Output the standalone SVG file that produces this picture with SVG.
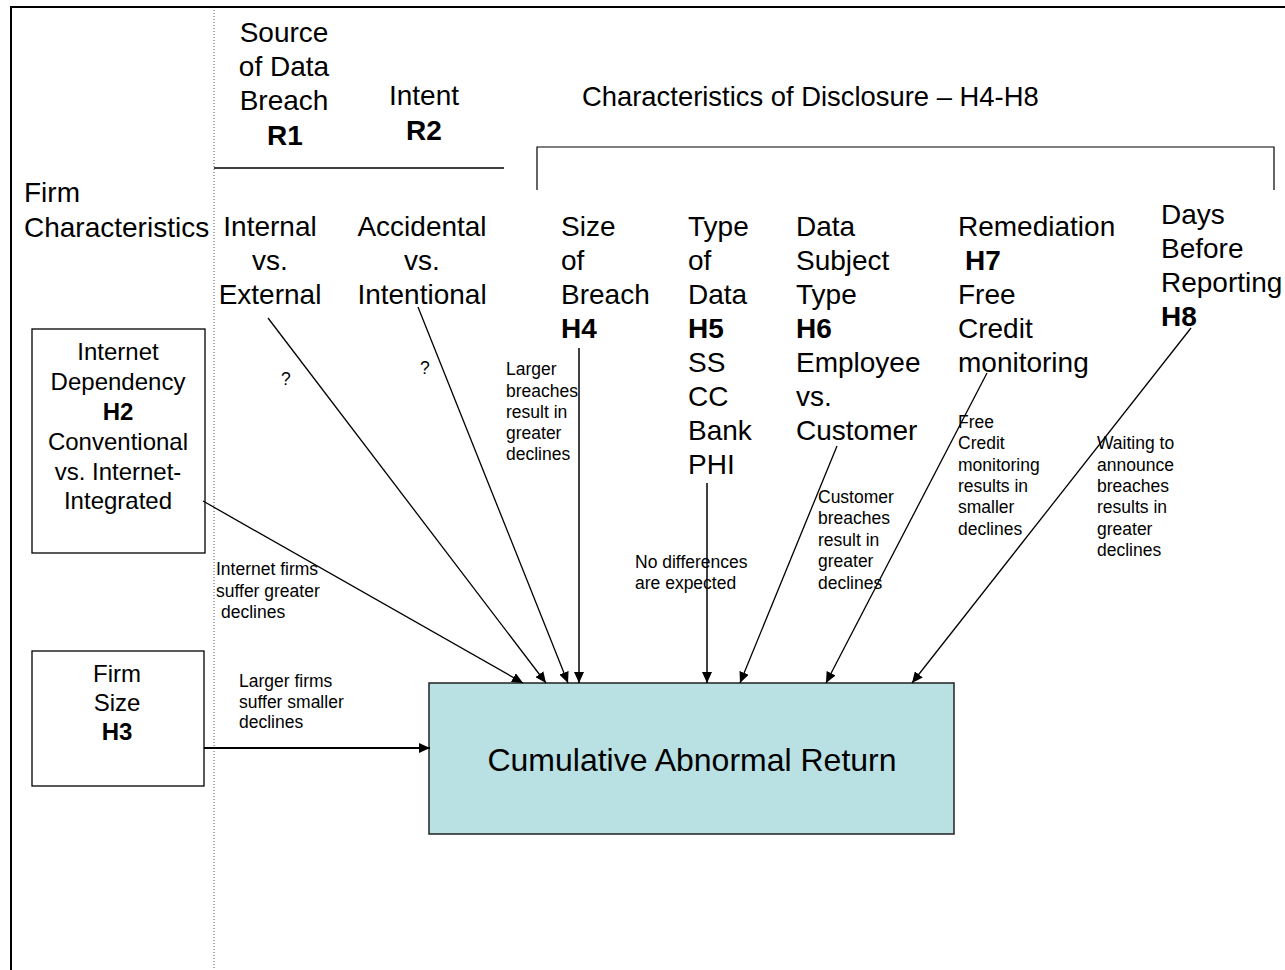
<svg xmlns="http://www.w3.org/2000/svg" width="1285" height="970" viewBox="0 0 1285 970">
<style>
text{font-family:"Liberation Sans",Arial,sans-serif;fill:#000}
.big{font-size:28px}
.mid{font-size:24px}
.sm{font-size:17.5px}
.b{font-weight:bold}
.c{text-anchor:middle}
.ln{stroke:#000;stroke-width:1.3;fill:none}
</style>
<defs>
<marker id="ah" markerUnits="userSpaceOnUse" markerWidth="12" markerHeight="10" refX="11" refY="5" orient="auto">
<path d="M0,0 L11,5 L0,10 Z" fill="#000"/>
</marker>
</defs>
<rect width="1285" height="970" fill="#fff"/>
<g id="frame">
<path d="M11,970 V7 H1285" stroke="#000" stroke-width="2" fill="none"/>
<line x1="214" y1="10" x2="214" y2="970" stroke="#555" stroke-width="1" stroke-dasharray="1,2"/>
<line x1="214" y1="168" x2="504" y2="168" stroke="#000" stroke-width="1.3"/>
<path d="M537,190 V147 H1274 V190" stroke="#000" stroke-width="1.2" fill="none"/>
</g>
<g id="headers">
<text class="big c" x="284" y="42">Source</text>
<text class="big c" x="284" y="76">of Data</text>
<text class="big c" x="284" y="110">Breach</text>
<text class="big c b" x="285" y="145">R1</text>
<text class="big c" x="424" y="105">Intent</text>
<text class="big c b" x="424" y="140">R2</text>
<text class="big" x="582" y="106" style="font-size:27.4px">Characteristics of Disclosure – H4-H8</text>
<text class="big" x="24" y="202">Firm</text>
<text class="big" x="24" y="237">Characteristics</text>
</g>
<g id="n-internal">
<text class="big c" x="270" y="236">Internal</text>
<text class="big c" x="270" y="270">vs.</text>
<text class="big c" x="270" y="304">External</text>
</g>
<g id="n-accidental">
<text class="big c" x="422" y="236">Accidental</text>
<text class="big c" x="422" y="270">vs.</text>
<text class="big c" x="422" y="304">Intentional</text>
</g>
<g id="n-size">
<text class="big" x="561" y="236">Size</text>
<text class="big" x="561" y="270">of</text>
<text class="big" x="561" y="304">Breach</text>
<text class="big b" x="561" y="338">H4</text>
</g>
<g id="n-type">
<text class="big" x="688" y="236">Type</text>
<text class="big" x="688" y="270">of</text>
<text class="big" x="688" y="304">Data</text>
<text class="big b" x="688" y="338">H5</text>
<text class="big" x="688" y="372">SS</text>
<text class="big" x="688" y="406">CC</text>
<text class="big" x="688" y="440">Bank</text>
<text class="big" x="688" y="474">PHI</text>
</g>
<g id="n-subject">
<text class="big" x="796" y="236">Data</text>
<text class="big" x="796" y="270">Subject</text>
<text class="big" x="796" y="304">Type</text>
<text class="big b" x="796" y="338">H6</text>
<text class="big" x="796" y="372">Employee</text>
<text class="big" x="796" y="406">vs.</text>
<text class="big" x="796" y="440">Customer</text>
</g>
<g id="n-remediation">
<text class="big" x="958" y="236">Remediation</text>
<text class="big b" x="965" y="270">H7</text>
<text class="big" x="958" y="304">Free</text>
<text class="big" x="958" y="338">Credit</text>
<text class="big" x="958" y="372">monitoring</text>
</g>
<g id="n-days">
<text class="big" x="1161" y="224">Days</text>
<text class="big" x="1161" y="258">Before</text>
<text class="big" x="1161" y="292">Reporting</text>
<text class="big b" x="1161" y="326">H8</text>
</g>
<g id="n-internet">
<rect x="32" y="329" width="173" height="224" fill="#fff" stroke="#000" stroke-width="1.3"/>
<text class="mid c" x="118" y="360">Internet</text>
<text class="mid c" x="118" y="390">Dependency</text>
<text class="mid c b" x="118" y="420">H2</text>
<text class="mid c" x="118" y="450">Conventional</text>
<text class="mid c" x="118" y="480">vs. Internet-</text>
<text class="mid c" x="118" y="509">Integrated</text>
</g>
<g id="n-firmsize">
<rect x="32" y="651" width="172" height="135" fill="#fff" stroke="#000" stroke-width="1.3"/>
<text class="mid c" x="117" y="682">Firm</text>
<text class="mid c" x="117" y="711">Size</text>
<text class="mid c b" x="117" y="740">H3</text>
</g>
<g id="n-car">
<rect x="429" y="683" width="525" height="151" fill="#b9e0e3" stroke="#222" stroke-width="1.5"/>
<text class="c" x="692" y="771" style="font-size:32px">Cumulative Abnormal Return</text>
</g>
<g id="connectors">
<line class="ln" x1="204" y1="748" x2="430" y2="748" marker-end="url(#ah)" style="stroke-width:2"/>
<line class="ln" x1="203" y1="501" x2="523" y2="683" marker-end="url(#ah)"/>
<line class="ln" x1="268" y1="318" x2="546" y2="683" marker-end="url(#ah)"/>
<line class="ln" x1="418" y1="307" x2="568" y2="683" marker-end="url(#ah)"/>
<line class="ln" x1="579" y1="348" x2="579" y2="683" marker-end="url(#ah)" style="stroke-width:1.5"/>
<line class="ln" x1="707" y1="483" x2="707" y2="683" marker-end="url(#ah)" style="stroke-width:1.5"/>
<line class="ln" x1="837" y1="446" x2="740" y2="683" marker-end="url(#ah)"/>
<line class="ln" x1="987" y1="373" x2="826" y2="683" marker-end="url(#ah)"/>
<line class="ln" x1="1191" y1="328" x2="912" y2="683" marker-end="url(#ah)"/>
</g>
<g id="labels">
<text class="sm" x="281" y="385">?</text>
<text class="sm" x="420" y="374">?</text>
<text class="sm" x="506" y="375">Larger</text>
<text class="sm" x="506" y="397">breaches</text>
<text class="sm" x="506" y="418">result in</text>
<text class="sm" x="506" y="439">greater</text>
<text class="sm" x="506" y="460">declines</text>
<text class="sm" x="216" y="575">Internet firms</text>
<text class="sm" x="216" y="597">suffer greater</text>
<text class="sm" x="221" y="618">declines</text>
<text class="sm" x="239" y="687">Larger firms</text>
<text class="sm" x="239" y="708">suffer smaller</text>
<text class="sm" x="239" y="728">declines</text>
<text class="sm" x="635" y="568">No differences</text>
<text class="sm" x="635" y="589">are expected</text>
<text class="sm" x="818" y="503">Customer</text>
<text class="sm" x="818" y="524">breaches</text>
<text class="sm" x="818" y="546">result in</text>
<text class="sm" x="818" y="567">greater</text>
<text class="sm" x="818" y="589">declines</text>
<text class="sm" x="958" y="428">Free</text>
<text class="sm" x="958" y="449">Credit</text>
<text class="sm" x="958" y="471">monitoring</text>
<text class="sm" x="958" y="492">results in</text>
<text class="sm" x="958" y="513">smaller</text>
<text class="sm" x="958" y="535">declines</text>
<text class="sm" x="1097" y="449">Waiting to</text>
<text class="sm" x="1097" y="471">announce</text>
<text class="sm" x="1097" y="492">breaches</text>
<text class="sm" x="1097" y="513">results in</text>
<text class="sm" x="1097" y="535">greater</text>
<text class="sm" x="1097" y="556">declines</text>
</g>
</svg>
